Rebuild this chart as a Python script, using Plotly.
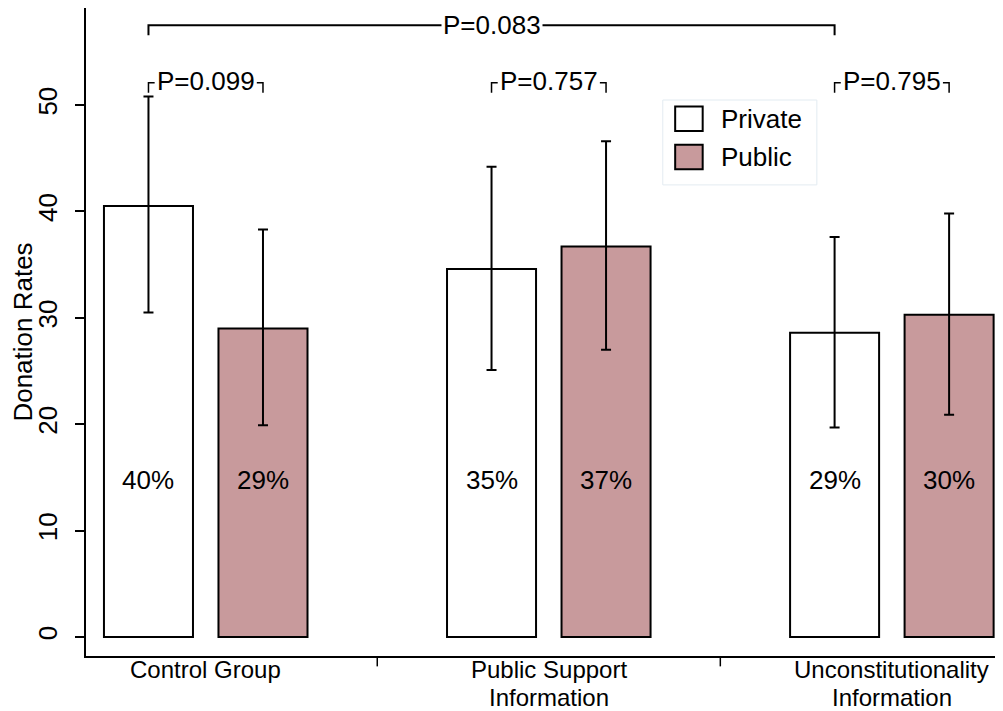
import plotly.graph_objects as go

# ---- data ----
groups = ["Control Group", "Public Support<br>Information", "Unconstitutionality<br>Information"]
private_vals = [40.5, 34.6, 28.6]
public_vals = [29.0, 36.7, 30.3]
private_lo = [30.5, 25.1, 19.7]
private_hi = [50.8, 44.2, 37.6]
public_lo = [19.9, 27.0, 20.9]
public_hi = [38.3, 46.6, 39.8]
private_labels = ["40%", "35%", "29%"]
public_labels = ["29%", "37%", "30%"]
pair_pvals = ["P=0.099", "P=0.757", "P=0.795"]
overall_pval = "P=0.083"
series_names = ["Private", "Public"]
y_ticks = [0, 10, 20, 30, 40, 50]

# ---- style ----
FONT = "Liberation Sans, Arial, Helvetica, sans-serif"
FS = 26
PINK = "#c89a9c"
OFF = 0.1669
BW = 0.2595
LABEL_Y = 14.75
PAIR_Y = 52.1
PAIR_DROP = 0.95
TOP_Y = 57.5
TOP_DROP = 0.95
STUB = 0.018

gpos = list(range(len(groups)))
xp = [g - OFF for g in gpos]
xq = [g + OFF for g in gpos]

fig = go.Figure()
fig.add_trace(go.Bar(
    x=xp, y=private_vals, width=BW, name=series_names[0],
    marker=dict(color="white", line=dict(color="black", width=2)),
    error_y=dict(type="data", symmetric=False,
                 array=[h - v for h, v in zip(private_hi, private_vals)],
                 arrayminus=[v - l for l, v in zip(private_lo, private_vals)],
                 color="black", thickness=2, width=5),
    showlegend=False))
fig.add_trace(go.Bar(
    x=xq, y=public_vals, width=BW, name=series_names[1],
    marker=dict(color=PINK, line=dict(color="black", width=2)),
    error_y=dict(type="data", symmetric=False,
                 array=[h - v for h, v in zip(public_hi, public_vals)],
                 arrayminus=[v - l for l, v in zip(public_lo, public_vals)],
                 color="black", thickness=2, width=5),
    showlegend=False))

annotations = []
shapes = []
txtfont = dict(size=FS, color="black", family=FONT)
# percent labels
for x, t in zip(xp + xq, private_labels + public_labels):
    annotations.append(dict(x=x, y=LABEL_Y, text=t, showarrow=False, font=txtfont,
                            xanchor="center", yanchor="middle"))
# pair p-value brackets
for a, b, t in zip(xp, xq, pair_pvals):
    annotations.append(dict(x=(a + b) / 2, y=PAIR_Y + 0.2, text=t, showarrow=False, font=txtfont,
                            xanchor="center", yanchor="middle"))
    shapes.append(dict(type="path", xref="x", yref="y",
                       path=f"M{a},{PAIR_Y - PAIR_DROP} L{a},{PAIR_Y} L{a + STUB},{PAIR_Y}",
                       line=dict(color="black", width=1.5)))
    shapes.append(dict(type="path", xref="x", yref="y",
                       path=f"M{b - STUB},{PAIR_Y} L{b},{PAIR_Y} L{b},{PAIR_Y - PAIR_DROP}",
                       line=dict(color="black", width=1.5)))
# overall bracket
x0, x1 = xp[0], xp[-1]
shapes.append(dict(type="path", xref="x", yref="y",
                   path=f"M{x0},{TOP_Y - TOP_DROP} L{x0},{TOP_Y} L{x1},{TOP_Y} L{x1},{TOP_Y - TOP_DROP}",
                   line=dict(color="black", width=2)))
annotations.append(dict(x=xp[1], y=TOP_Y, text=overall_pval, showarrow=False, font=txtfont,
                        xanchor="center", yanchor="middle", bgcolor="white", borderpad=1))
# category separators
for s in [0.5, 1.5]:
    shapes.append(dict(type="line", xref="x", yref="paper", x0=s, x1=s, y0=0, y1=-0.016,
                       line=dict(color="black", width=1.5)))
# category labels (one annotation per line for tight line spacing)
for g, lab in zip(gpos, groups):
    for i, line in enumerate(lab.split("<br>")):
        annotations.append(dict(x=g, xref="x", yref="paper", y=-0.0216 - i * 0.0417, text=line,
                                showarrow=False, font=dict(size=24, color="black", family=FONT),
                                xanchor="center", yanchor="middle", borderpad=0))

# manual legend
shapes.append(dict(type="rect", xref="paper", yref="paper", x0=0.629, x1=0.797, y0=0.727, y1=0.858,
                   line=dict(color="#e3ebf1", width=1), fillcolor="white"))
for (yc, col, name) in [(0.829, "white", series_names[0]), (0.770, PINK, series_names[1])]:
    shapes.append(dict(type="rect", xref="paper", yref="paper", x0=0.6425, x1=0.6725,
                       y0=yc - 0.019, y1=yc + 0.019, line=dict(color="black", width=2), fillcolor=col))
    annotations.append(dict(xref="paper", yref="paper", x=0.69, y=yc, text=name, showarrow=False,
                            font=txtfont, xanchor="left", yanchor="middle"))

# page body has an 8px default margin; size the figure to fit the 1003x711 window
fig.update_layout(
    width=995, height=703,
    margin=dict(l=78, r=0, t=0, b=55),
    plot_bgcolor="white", paper_bgcolor="white",
    barmode="overlay",
    font=dict(family=FONT, size=FS, color="black"),
    shapes=shapes, annotations=annotations,
    showlegend=False,
)
fig.update_xaxes(range=[-0.349, 2.324], tickvals=gpos, showticklabels=False,
                 showline=True, linecolor="black", linewidth=2, ticks="",
                 showgrid=False, zeroline=False, automargin=False)
fig.update_yaxes(range=[-1.786, 59.12], tickvals=y_ticks,
                 showline=True, linecolor="black", linewidth=2, ticks="outside", ticklen=9,
                 tickwidth=1.5, tickcolor="black", tickangle=-90, ticklabelstandoff=8,
                 showgrid=False, zeroline=False, tickfont=dict(size=FS, family=FONT),
                 automargin=False,
                 title=dict(text="Donation Rates", font=dict(size=FS, family=FONT), standoff=6))

fig.write_html("out.html")
